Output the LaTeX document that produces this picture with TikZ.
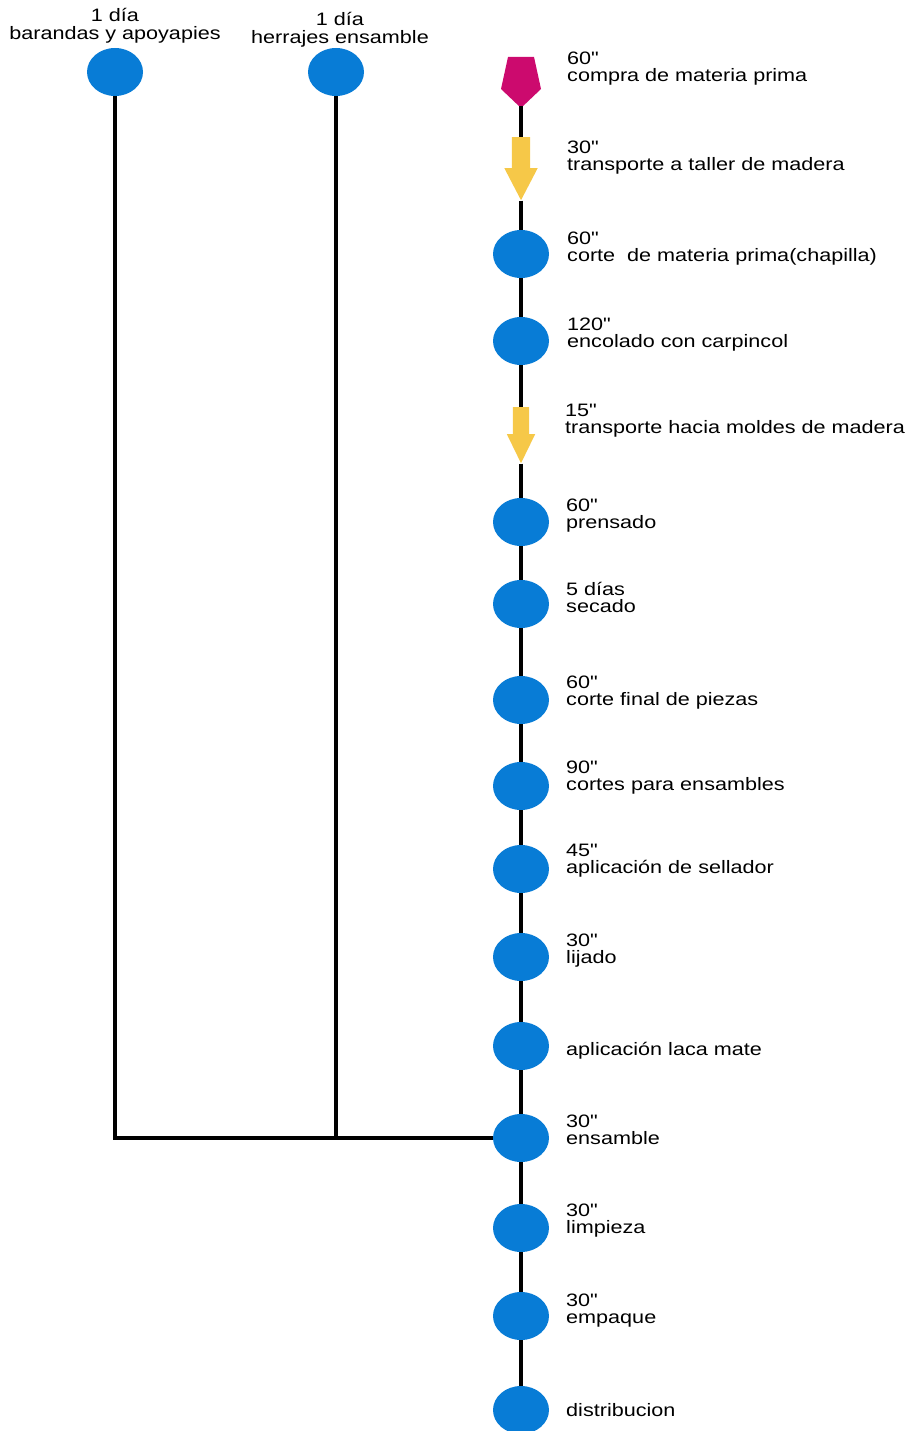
\documentclass[tikz,border=0pt]{standalone}
\usepackage{fontspec}
\setmainfont{Liberation Sans}[FakeStretch=1.2, Ligatures=TeXOff]
\usetikzlibrary{shapes.geometric,shapes.arrows}

\tikzset{
  operacion/.style={ellipse, fill={rgb, 255:red, 8; green, 124; blue, 214}, minimum width=56, minimum height=48, inner sep=0},
  transporte/.style={single arrow, rotate=-90, anchor=tail, fill={rgb, 255:red, 246; green, 200; blue, 72}, minimum height=63, minimum width=33, inner xsep=0, inner ysep=9, single arrow head extend=7.5, single arrow tip angle=55},
  linea/.style={line width=4},
  rotulo/.style={anchor=north west, align=left, inner sep=0, font=\fontsize{18}{17}\selectfont}
}

\begin{document}
\begin{tikzpicture}[x=1pt,y=1pt,yscale=-1]
    \useasboundingbox (0,0) rectangle (905,1431);

    %Ellipses, side branches
    \node[operacion] (barandas) at (115,72) {};
    \node[operacion] (herrajes) at (336,72) {};
    \node[rotulo, anchor=north, align=center, font=\fontsize{18}{18.5}\selectfont] (t-barandas) at (115,8) {1 día\\barandas y apoyapies};
    \node[rotulo, anchor=north, align=center, font=\fontsize{18}{18.5}\selectfont] (t-herrajes) at (340,12) {1 día\\herrajes ensamble};

    %Pentagon
    \fill[fill={rgb, 255:red, 204; green, 10; blue, 110}] (508,57) -- (534,57) -- (541,89) -- (521,108) -- (501,89) -- cycle;
    \coordinate (compra) at (521,106);

    %Main line nodes
    \node[transporte] (taller) at (521,137) {};
    \node[operacion] (corte) at (521,254) {};
    \node[operacion] (encolado) at (521,341) {};
    \node[transporte, minimum height=56, minimum width=28, inner ysep=8, single arrow head extend=6, single arrow tip angle=52] (moldes) at (521,407) {};
    \node[operacion] (prensado) at (521,522) {};
    \node[operacion] (secado) at (521,604) {};
    \node[operacion] (cortefinal) at (521,700) {};
    \node[operacion] (ensambles) at (521,786) {};
    \node[operacion] (sellador) at (521,869) {};
    \node[operacion] (lijado) at (521,957) {};
    \node[operacion] (laca) at (521,1046) {};
    \node[operacion] (ensamble) at (521,1138) {};
    \node[operacion] (limpieza) at (521,1228) {};
    \node[operacion] (empaque) at (521,1316) {};
    \node[operacion] (distribucion) at (521,1410) {};

    %Straight Lines
    \draw[linea] (compra) -- (taller) -- (corte) -- (encolado) -- (moldes) -- (prensado) -- (secado) -- (cortefinal) -- (ensambles) -- (sellador) -- (lijado) -- (laca) -- (ensamble) -- (limpieza) -- (empaque) -- (distribucion);
    \draw[linea] (barandas) |- (ensamble);
    \draw[linea] (herrajes) -- (herrajes |- ensamble);

    %Labels
    \node[rotulo] (t-compra) at (567,51.5) {60"\\compra de materia prima};
    \node[rotulo] (t-taller) at (567,140.5) {30"\\transporte a taller de madera};
    \node[rotulo] (t-corte) at (567,231.5) {60"\\corte\ \ de materia prima(chapilla)};
    \node[rotulo] (t-encolado) at (567,317.5) {120"\\encolado con carpincol};
    \node[rotulo] (t-moldes) at (565,403.5) {15"\\transporte hacia moldes de madera};
    \node[rotulo] (t-prensado) at (566,498.5) {60"\\prensado};
    \node[rotulo] (t-secado) at (566,582.5) {5 días\\secado};
    \node[rotulo] (t-cortefinal) at (566,675.5) {60"\\corte final de piezas};
    \node[rotulo] (t-ensambles) at (566,760.5) {90"\\cortes para ensambles};
    \node[rotulo] (t-sellador) at (566,843.5) {45"\\aplicación de sellador};
    \node[rotulo] (t-lijado) at (566,933.5) {30"\\lijado};
    \node[rotulo] (t-laca) at (566,1042) {aplicación laca mate};
    \node[rotulo] (t-ensamble) at (566,1114.5) {30"\\ensamble};
    \node[rotulo] (t-limpieza) at (566,1203.5) {30"\\limpieza};
    \node[rotulo] (t-empaque) at (566,1293.5) {30"\\empaque};
    \node[rotulo] (t-distribucion) at (566,1403) {distribucion};

\end{tikzpicture}
\end{document}
